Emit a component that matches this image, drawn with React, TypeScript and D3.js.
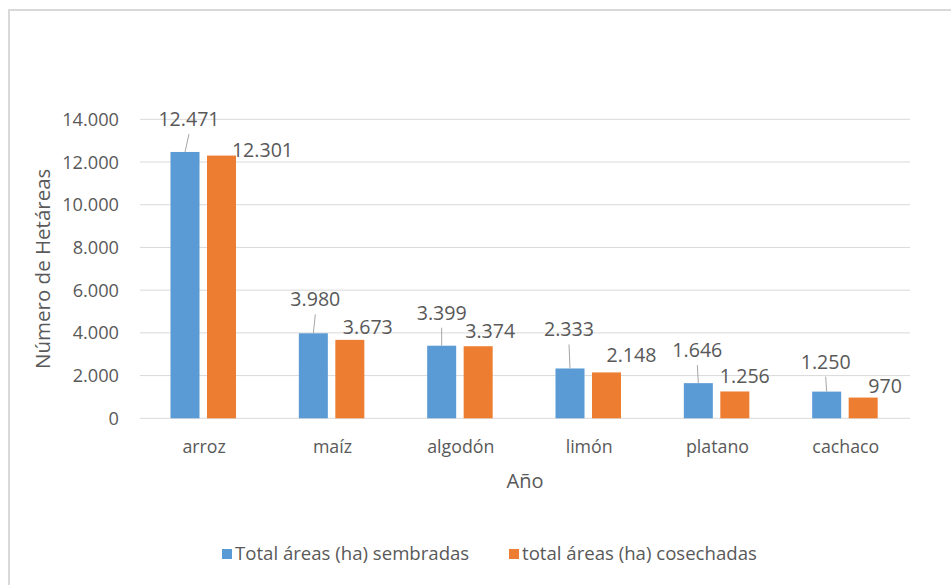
import React from "react";
import * as d3 from "d3";

const categories = ["arroz", "maíz", "algodón", "limón", "platano", "cachaco"];
const seriesNames = ["Total áreas (ha) sembradas", "total áreas (ha) cosechadas"];
const sembradas = [12471, 3980, 3399, 2333, 1646, 1250];
const cosechadas = [12301, 3673, 3374, 2148, 1256, 970];
const yTicks = [0, 2000, 4000, 6000, 8000, 10000, 12000, 14000];

// label placement offsets (layout only): [dx, dy] from bar top-centre
const labelOffsetsS = [[4, -26], [2, -27], [0, -26], [-1, -32], [-1, -26], [-1, -23]];
const labelOffsetsC = [[41, 1], [18, -6], [12, -8], [25, -10], [10, -8], [22, -5]];

const W = 951;
const H = 585;
const plot = { left: 140, right: 910, top: 119.3, bottom: 418.3 };
const colors = ["#5B9BD5", "#ED7D31"];
const textColor = "#595959";
const font = "'Open Sans', 'Noto Sans', sans-serif";

const locale = d3.formatLocale({ decimal: ",", thousands: ".", grouping: [3], currency: ["", ""] });
const fmt = locale.format(",d");

export default function App() {
  const x0 = d3.scaleBand<string>().domain(categories).range([plot.left, plot.right]).padding(0);
  const x1 = d3.scaleBand<string>().domain(seriesNames).range([30.5, 96]).paddingInner(0.205).paddingOuter(0);
  const y = d3.scaleLinear().domain([0, 14000]).range([plot.bottom, plot.top]);
  const series = [sembradas, cosechadas];
  const offsets = [labelOffsetsS, labelOffsetsC];

  return (
    <svg
      width={W}
      height={H}
      style={{ position: "absolute", left: 0, top: 0, display: "block", background: "#fff" }}
      fontFamily={font}
    >
      {/* chart frame */}
      <line x1={9} y1={10} x2={W} y2={10} stroke="#d9d9d9" strokeWidth={2} />
      <line x1={9} y1={9} x2={9} y2={H} stroke="#d9d9d9" strokeWidth={2} />

      {/* gridlines */}
      {yTicks.map((t) => (
        <line key={"g" + t} x1={plot.left} x2={plot.right} y1={y(t)} y2={y(t)} stroke="#d9d9d9" strokeWidth={1} />
      ))}

      {/* y tick labels */}
      {yTicks.map((t) => (
        <text key={"t" + t} x={119} y={y(t)} dy="0.36em" textAnchor="end" fontSize={18.2} fill={textColor}>
          {fmt(t)}
        </text>
      ))}

      {/* bars */}
      {categories.map((c, i) =>
        series.map((s, j) => (
          <rect
            key={c + j}
            x={(x0(c) as number) + (x1(seriesNames[j]) as number)}
            y={y(s[i])}
            width={x1.bandwidth()}
            height={y(0) - y(s[i])}
            fill={colors[j]}
          />
        ))
      )}

      {/* data labels + leader lines */}
      {categories.map((c, i) =>
        series.map((s, j) => {
          const cx = (x0(c) as number) + (x1(seriesNames[j]) as number) + x1.bandwidth() / 2;
          const top = y(s[i]);
          const [dx, dy] = offsets[j][i];
          const lx = cx + dx;
          const ly = top + dy;
          return (
            <g key={"l" + c + j}>
              {j === 0 && <line x1={lx} y1={ly + 8} x2={cx} y2={top} stroke="#a6a6a6" strokeWidth={1} />}
              <text x={lx} y={ly} textAnchor="middle" fontSize={19.6} fill={textColor}>
                {fmt(s[i])}
              </text>
            </g>
          );
        })
      )}

      {/* category labels */}
      {categories.map((c) => (
        <text
          key={"c" + c}
          x={(x0(c) as number) + x0.bandwidth() / 2}
          y={453}
          textAnchor="middle"
          fontSize={17.8}
          fill={textColor}
        >
          {c}
        </text>
      ))}

      {/* axis titles */}
      <text x={(plot.left + plot.right) / 2} y={488} textAnchor="middle" fontSize={20} fill={textColor}>
        Año
      </text>
      <text
        transform={`translate(50, ${(plot.top + plot.bottom) / 2}) rotate(-90)`}
        textAnchor="middle"
        fontSize={20.5}
        fill={textColor}
      >
        Número de Hetáreas
      </text>

      {/* legend */}
      {seriesNames.map((n, j) => {
        const lx = j === 0 ? 222 : 509;
        return (
          <g key={"lg" + j}>
            <rect x={lx} y={549} width={10} height={10} fill={colors[j]} />
            <text x={lx + 13} y={560} fontSize={18.6} fill={textColor}>
              {n}
            </text>
          </g>
        );
      })}
    </svg>
  );
}
